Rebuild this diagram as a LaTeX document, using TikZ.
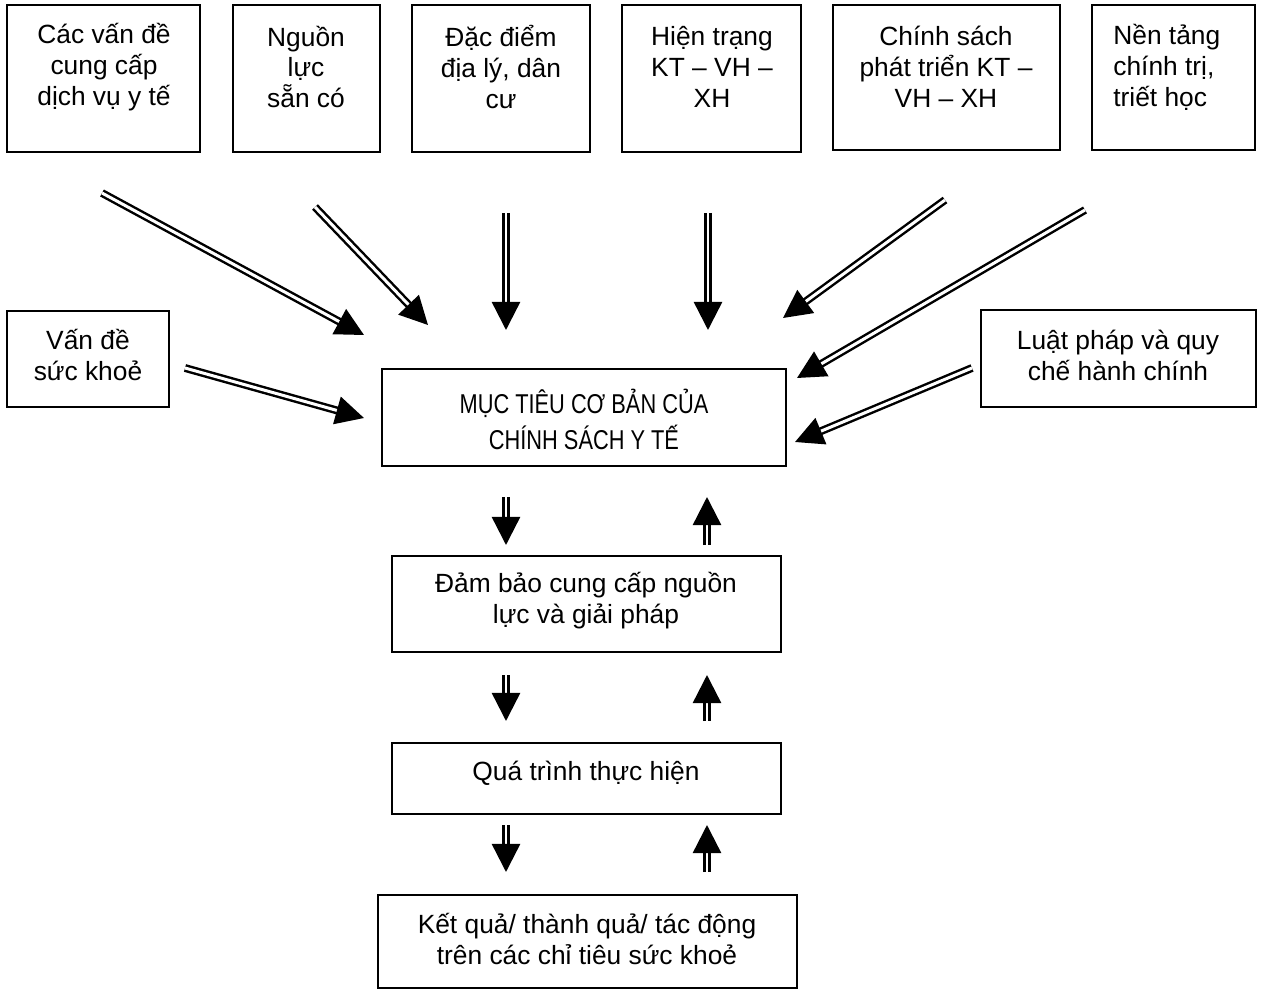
\documentclass[tikz,border=0pt]{standalone}
\usepackage{fontspec}
\setmainfont{Liberation Sans}
\newfontfamily\narrowfont[FakeStretch=0.8]{Liberation Sans}
\usepackage{tikz}
\usetikzlibrary{arrows.meta}

\begin{document}
\begin{tikzpicture}[x=0.02cm, y=-0.02cm,
    boxline/.style={line width=0.8pt},
    boxtext/.style={align=center, inner sep=0pt, font=\fontsize{15}{17.6}\selectfont},
    dblarrow/.style={double, double distance=1.7pt, line width=1.4pt,
        -{Triangle[length=16pt, width=16pt]}}]
    % Page frame (white)
    \useasboundingbox (0,0) rectangle (1262,990);

    % Top row of factors
    \draw[boxline] (7,5) rectangle (200,152);
    \node[boxtext] (vandecc) at (104,67) {Các vấn đề\\cung cấp\\dịch vụ y tế};
    \draw[boxline] (233,5) rectangle (380,152);
    \node[boxtext] (nguonluc) at (306,67) {Nguồn\\lực\\sẵn có};
    \draw[boxline] (412,5) rectangle (590,152);
    \node[boxtext] (diaLy) at (501,67) {Đặc điểm\\địa lý, dân\\cư};
    \draw[line width=1.4pt] (622,5) rectangle (801,152);
    \node[boxtext] (hientrang) at (712,67) {Hiện trạng\\KT -- VH --\\XH};
    \draw[boxline] (833,5) rectangle (1060,150);
    \node[boxtext] (chinhsach) at (946,67) {Chính sách\\phát triển KT --\\VH -- XH};
    \draw[boxline] (1092,5) rectangle (1255,150);
    \node[boxtext, align=left, anchor=west] (nentang) at (1113,67) {Nền tảng\\chính trị,\\triết học};

    % Side factors
    \draw[boxline] (7,311) rectangle (169,407);
    \node[boxtext] (suckhoe) at (88,355) {Vấn đề\\sức khoẻ};
    \draw[boxline] (981,310) rectangle (1256,407);
    \node[boxtext] (luatphap) at (1118,355) {Luật pháp và quy\\chế hành chính};

    % Central goal and the chain below it
    \draw[line width=1.1pt] (382,369) rectangle (786,466);
    \node[boxtext, font=\narrowfont\fontsize{15.5}{20.5}\selectfont] (muctieu) at (584,419) {MỤC TIÊU CƠ BẢN CỦA\\CHÍNH SÁCH Y TẾ};
    \draw[boxline] (392,556) rectangle (781,652);
    \node[boxtext] (dambao) at (586,601) {Đảm bảo cung cấp nguồn\\lực và giải pháp};
    \draw[boxline] (392,743) rectangle (781,814);
    \node[boxtext] (quatrinh) at (586,773) {Quá trình thực hiện};
    \draw[boxline] (378,895) rectangle (797,988);
    \node[boxtext] (ketqua) at (587,939) {Kết quả/ thành quả/ tác động\\trên các chỉ tiêu sức khoẻ};

    % Arrow ends
    \coordinate (a1s) at (102,193);  \coordinate (a1t) at (364,335);
    \coordinate (a2s) at (315,207);  \coordinate (a2t) at (428,325);
    \coordinate (a3s) at (506,213);  \coordinate (a3t) at (506,330);
    \coordinate (a4s) at (708,213);  \coordinate (a4t) at (708,330);
    \coordinate (a5s) at (945,200);  \coordinate (a5t) at (783,318);
    \coordinate (a6s) at (1085,210); \coordinate (a6t) at (797,378);
    \coordinate (a7s) at (185,368);  \coordinate (a7t) at (364,418);
    \coordinate (a8s) at (972,368);  \coordinate (a8t) at (795,442);

    % Arrows into the goal
    \draw[dblarrow] (a1s) -- (a1t);
    \draw[dblarrow] (a2s) -- (a2t);
    \draw[dblarrow] (a3s) -- (a3t);
    \draw[dblarrow] (a4s) -- (a4t);
    \draw[dblarrow] (a5s) -- (a5t);
    \draw[dblarrow] (a6s) -- (a6t);
    \draw[dblarrow] (a7s) -- (a7t);
    \draw[dblarrow] (a8s) -- (a8t);

    % Down and up arrows along the chain
    \foreach \top/\bot in {497/545, 675/721, 825/872} {
        \coordinate (dn1) at (506,\top);  \coordinate (dn2) at (506,\bot);
        \coordinate (up1) at (707,\bot);  \coordinate (up2) at (707,\top);
        \draw[dblarrow] (dn1) -- (dn2);
        \draw[dblarrow] (up1) -- (up2);
    }
\end{tikzpicture}
\end{document}
